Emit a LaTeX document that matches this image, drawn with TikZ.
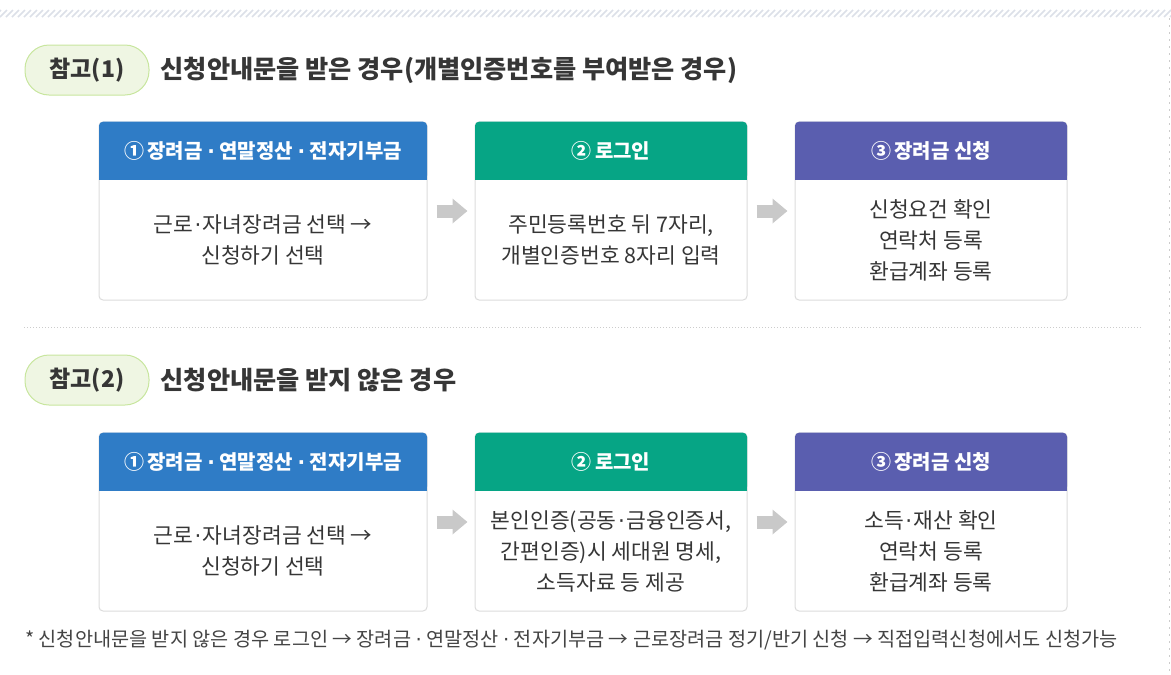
\documentclass[tikz,border=0pt]{standalone}
\usepackage{fontspec}
\setmainfont{Noto Sans CJK KR}
\newfontfamily\dotfont{DejaVu Sans}
\newcommand{\mdot}{{\dotfont ·}}
\newcommand{\tdot}{\kern1.5pt{\dotfont ·}\kern1.5pt}
\usetikzlibrary{arrows.meta,positioning}

\definecolor{headblue}{HTML}{2F7CC6}
\definecolor{headgreen}{HTML}{06A585}
\definecolor{headpurple}{HTML}{5A5EAF}
\definecolor{pillfill}{HTML}{EFF6E3}
\definecolor{pillline}{HTML}{C8E69E}
\definecolor{textdark}{HTML}{363636}
\definecolor{notegrey}{HTML}{444444}
\definecolor{boxline}{HTML}{DCDCDC}
\definecolor{arrowgrey}{HTML}{C9C9C9}
\definecolor{stripe}{HTML}{DCE0E8}
\definecolor{dotgrey}{HTML}{CCCCCC}

\begin{document}
\begin{tikzpicture}[x=1pt,y=-1pt,
    pill/.style={draw=pillline, fill=pillfill, line width=1pt, rounded corners=24pt, minimum width=124pt, minimum height=50pt, inner sep=0pt, text=textdark, font=\fontsize{23}{26}\selectfont\bfseries},
    title/.style={anchor=west, inner sep=0pt, text=textdark, font=\fontsize{25.2}{28}\selectfont\bfseries},
    frame/.style={draw=boxline, line width=1pt, fill=white, rounded corners=4pt, minimum height=178pt, inner sep=0pt},
    head/.style={rounded corners=4pt, minimum height=58pt, inner sep=0pt},
    headtext/.style={text=white, inner sep=0pt, font=\fontsize{20}{24}\selectfont\bfseries},
    bodytext/.style={minimum height=120pt, inner sep=0pt, align=center, text=textdark, font=\fontsize{21.5}{31}\selectfont},
    flowarrow/.style={draw=arrowgrey, line width=13pt, -{Triangle[length=15pt,width=24pt]}, shorten <=9pt, shorten >=7pt},
    note/.style={anchor=west, inner sep=0pt, text=notegrey, font=\fontsize{19.7}{22}\selectfont}]

    \useasboundingbox (0,0) rectangle (1171,675);

    % top stripe and right border
    \foreach \x in {-6,0,...,1176}
        \draw[stripe, line width=1.7pt] (\x,17) -- (\x+7,10);
    \draw[dotgrey, line width=1pt, dash pattern=on 2pt off 5pt] (1169.5,18) -- (1169.5,675);

    % case 1
    \node[pill] (p1) at (87,70) {참고(1)};
    \node[title, right=11pt of p1] (t1) {신청안내문을 받은 경우(개별인증번호를 부여받은 경우)};

    \node[frame, minimum width=328pt] (f1) at (263,211) {};
    \node[frame, minimum width=272pt] (f2) at (611,211) {};
    \node[frame, minimum width=272pt] (f3) at (931,211) {};

    \node[head, fill=headblue, minimum width=328pt, below=0pt of f1.north] (h1) {};
    \node[head, fill=headgreen, minimum width=272pt, below=0pt of f2.north] (h2) {};
    \node[head, fill=headpurple, minimum width=272pt, below=0pt of f3.north] (h3) {};
    \fill[headblue] (h1.west) rectangle (h1.south east);
    \fill[headgreen] (h2.west) rectangle (h2.south east);
    \fill[headpurple] (h3.west) rectangle (h3.south east);
    \node[headtext] (l1) at (h1) {①\,장려금 \mdot{} 연말정산 \mdot{} 전자기부금};
    \node[headtext] (l2) at (h2) {②\,로그인};
    \node[headtext] (l3) at (h3) {③\,장려금 신청};

    \node[bodytext, below=0pt of h1] (b1) {근로\tdot 자녀장려금 선택 →\\신청하기 선택};
    \node[bodytext, below=0pt of h2] (b2) {주민등록번호 뒤 7자리,\\개별인증번호 8자리 입력};
    \node[bodytext, below=0pt of h3] (b3) {신청요건 확인\\연락처 등록\\환급계좌 등록};

    \draw[flowarrow] (f1) -- (f2);
    \draw[flowarrow] (f2) -- (f3);

    \draw[dotgrey, line width=1pt, dash pattern=on 1pt off 2pt] (24,327) -- (1142,327);

    % case 2
    \node[pill] (p2) at (87,380) {참고(2)};
    \node[title, right=11pt of p2] (t2) {신청안내문을 받지 않은 경우};

    \node[frame, minimum width=328pt] (f4) at (263,522) {};
    \node[frame, minimum width=272pt] (f5) at (611,522) {};
    \node[frame, minimum width=272pt] (f6) at (931,522) {};

    \node[head, fill=headblue, minimum width=328pt, below=0pt of f4.north] (h4) {};
    \node[head, fill=headgreen, minimum width=272pt, below=0pt of f5.north] (h5) {};
    \node[head, fill=headpurple, minimum width=272pt, below=0pt of f6.north] (h6) {};
    \fill[headblue] (h4.west) rectangle (h4.south east);
    \fill[headgreen] (h5.west) rectangle (h5.south east);
    \fill[headpurple] (h6.west) rectangle (h6.south east);
    \node[headtext] (l4) at (h4) {①\,장려금 \mdot{} 연말정산 \mdot{} 전자기부금};
    \node[headtext] (l5) at (h5) {②\,로그인};
    \node[headtext] (l6) at (h6) {③\,장려금 신청};

    \node[bodytext, below=0pt of h4] (b4) {근로\tdot 자녀장려금 선택 →\\신청하기 선택};
    \node[bodytext, below=0pt of h5] (b5) {본인인증(공동\tdot 금융인증서,\\간편인증)시 세대원 명세,\\소득자료 등 제공};
    \node[bodytext, below=0pt of h6] (b6) {소득\tdot 재산 확인\\연락처 등록\\환급계좌 등록};

    \draw[flowarrow] (f4) -- (f5);
    \draw[flowarrow] (f5) -- (f6);

    \node[note] (n1) at (25,640) {* 신청안내문을 받지 않은 경우 로그인 → 장려금 \mdot{} 연말정산 \mdot{} 전자기부금 → 근로장려금 정기/반기 신청 → 직접입력신청에서도 신청가능};
\end{tikzpicture}
\end{document}
